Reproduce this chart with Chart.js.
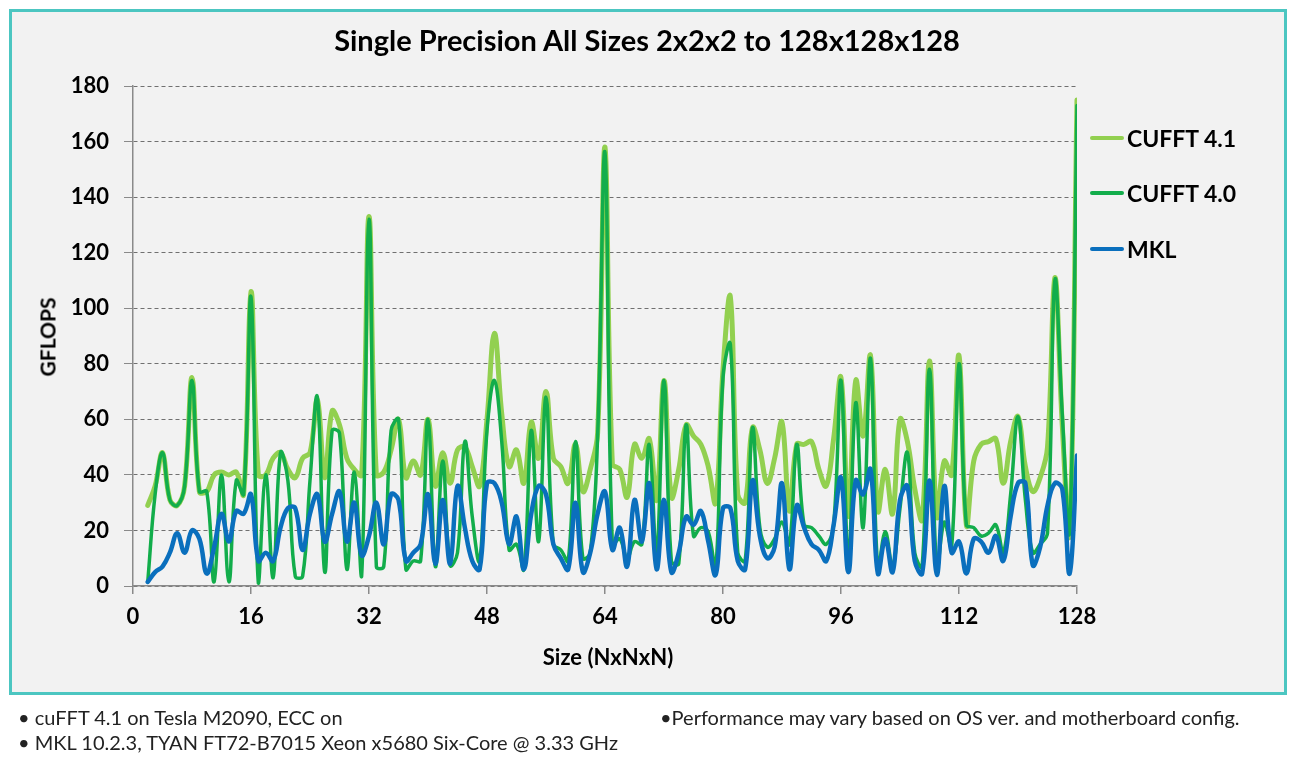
<!DOCTYPE html>
<html>
<head>
<meta charset="utf-8">
<script src="https://cdn.jsdelivr.net/npm/chart.js@4.4.1/dist/chart.umd.min.js"></script>
<style>
  html, body { margin: 0; padding: 0; background: #ffffff; }
  body { width: 1300px; height: 758px; position: relative; overflow: hidden; font-family: Lato, "Open Sans", sans-serif; }
  #frame { position: absolute; left: 9px; top: 9px; width: 1278px; height: 686px; box-sizing: border-box;
           border: 3px solid #4cc6c1; background: #f2f2f2; }
  #chart { position: absolute; left: 0; top: 0; }
  .txt { position: absolute; color: #000; white-space: nowrap; }
  #title { left: 0; width: 1294px; top: 22px; text-align: center; font-weight: bold; font-size: 29px; line-height: 36px; }
  #ytitle { left: 47px; top: 337px; transform: translate(-50%, -50%) rotate(-90deg); font-weight: bold; font-size: 21px; }
  #xtitle { left: 608px; top: 656px; transform: translate(-50%, -50%); font-weight: bold; font-size: 22px; }
  .leg { position: absolute; left: 1090px; height: 30px; display: flex; align-items: center; }
  .leg span.line { display: inline-block; width: 34px; height: 4px; border-radius: 2px; margin-right: 3px; }
  .leg span.lbl { font-weight: bold; font-size: 23px; color: #000; }
  .foot { font-size: 20px; color: #222; transform: translateY(-50%); }
</style>
</head>
<body>
<div id="frame"></div>
<canvas id="chart" width="1300" height="758"></canvas>
<div id="title" class="txt">Single Precision All Sizes 2x2x2 to 128x128x128</div>
<div id="ytitle" class="txt">GFLOPS</div>
<div id="xtitle" class="txt">Size (NxNxN)</div>
<div id="legend"></div>
<div class="txt foot" style="left:18px; top:717px;">• cuFFT 4.1 on Tesla M2090, ECC on</div>
<div class="txt foot" style="left:18px; top:742px;">• MKL 10.2.3, TYAN FT72-B7015 Xeon x5680 Six-Core @ 3.33 GHz</div>
<div class="txt foot" style="left:660px; top:717px;">•Performance may vary based on OS ver. and motherboard config.</div>
<script>
// chart data: FFT size N (for NxNxN) and GFLOPS per library
const sizes = [
  2, 3, 4, 5, 6, 7, 8, 9, 10, 11, 12, 13, 14, 15, 16, 17, 18, 19, 20, 21, 22, 23, 24, 25, 26, 27, 28, 29, 30, 31, 32,
  33, 34, 35, 36, 37, 38, 39, 40, 41, 42, 43, 44, 45, 46, 47, 48, 49, 50, 51, 52, 53, 54, 55, 56, 57, 58, 59, 60, 61, 62, 63, 64,
  65, 66, 67, 68, 69, 70, 71, 72, 73, 74, 75, 76, 77, 78, 79, 80, 81, 82, 83, 84, 85, 86, 87, 88, 89, 90, 91, 92, 93, 94, 95, 96,
  97, 98, 99, 100, 101, 102, 103, 104, 105, 106, 107, 108, 109, 110, 111, 112, 113, 114, 115, 116, 117, 118, 119, 120, 121, 122, 123, 124, 125, 126, 127, 128
];

const cufft41 = [
  29, 36, 48, 31, 29, 36, 75, 34, 34, 40, 41, 40, 41, 33, 106, 40, 40, 46, 48, 42, 39, 46, 48, 67, 39, 63, 58, 46, 42, 40, 133,
  40, 41, 49, 60, 39, 45, 40, 60, 36, 48, 37, 49, 50, 43, 36, 60, 91, 62, 43, 49, 37, 59, 46, 70, 46, 43, 37, 51, 34, 42, 55, 158,
  44, 42, 32, 51, 46, 53, 31, 74, 32, 42, 58, 54, 51, 43, 30, 78, 104, 33, 30, 57, 49, 37, 46, 59, 27, 51, 51, 52, 42, 36, 53, 75,
  25, 74, 54, 83, 27, 42, 26, 60, 52, 35, 24, 81, 25, 45, 40, 83, 22, 45, 51, 52, 53, 37, 52, 61, 43, 34, 39, 50, 111, 58, 19, 175
];

const cufft40 = [
  1.5, 33, 48, 31, 29, 36, 74, 34, 34, 1.5, 40, 1.5, 38, 33, 104, 1, 40, 3, 48, 38, 3.5, 3.5, 38, 68, 5, 56, 55, 6, 41, 3.5, 132,
  7, 7, 56, 60, 6, 9, 9, 60, 7, 45, 7.5, 12, 52, 25, 9, 56, 74, 52, 13, 15, 6, 56, 16, 68, 15, 13, 9, 52, 10, 12, 54, 156,
  15, 17, 10, 16, 15, 51, 11, 74, 9, 8, 58, 18, 21, 19.5, 6, 75, 87, 12, 9, 57, 21, 14, 17, 23, 15, 51, 22, 21, 18, 15, 22, 74,
  9, 66, 21, 82, 6, 19.5, 7, 28, 48, 12, 7, 78, 6, 23, 14, 80, 22, 21, 18, 19, 22, 12, 33, 61, 31, 12, 15, 19, 110, 62, 20, 173
];

const mkl = [
  1.5, 5, 7, 12, 19, 12, 20, 17, 4.5, 14, 26, 16, 27, 26, 33, 9, 12, 9, 21, 28, 28, 13, 26, 33, 16, 26, 34, 16, 30, 11, 18,
  30, 15, 33, 31, 9, 12, 15, 33, 8, 31, 8, 36, 21, 9, 6, 37, 37, 30, 15, 25, 6, 26, 36, 33, 15, 10, 6, 30, 5, 12, 26, 34,
  13, 21, 7, 31, 16, 37, 6, 31, 5, 12, 25, 22, 27, 16, 4, 28, 28, 9, 6, 38, 18, 10, 14, 37, 6, 29, 21, 15, 13, 9, 22, 39,
  5, 38, 33, 42, 4.5, 17, 5, 31, 36, 9, 4.5, 38, 4, 36, 12, 16, 4.5, 17, 16, 12, 18, 9, 25, 37, 37, 7.5, 14, 29, 37, 35, 4.5, 47
];

const seriesNames = ["CUFFT 4.1", "CUFFT 4.0", "MKL"];
const seriesColors = ["#92d050", "#12ad4b", "#0a6fbd"];
const xTicks = [0, 16, 32, 48, 64, 80, 96, 112, 128];
const yTicks = [0, 20, 40, 60, 80, 100, 120, 140, 160, 180];

function toPoints(values) {
  return sizes.map((n, i) => ({ x: n, y: values[i] }));
}

const tickFont = { family: "Lato", size: 22, weight: "bold" };

new Chart(document.getElementById("chart"), {
  type: "line",
  data: {
    datasets: [
      // higher order is painted first, so MKL ends on top
      { label: seriesNames[0], data: toPoints(cufft41), borderColor: seriesColors[0], borderWidth: 5, order: 2 },
      { label: seriesNames[1], data: toPoints(cufft40), borderColor: seriesColors[1], borderWidth: 3.5, order: 1 },
      { label: seriesNames[2], data: toPoints(mkl), borderColor: seriesColors[2], borderWidth: 4.5, order: 0 },
    ],
  },
  options: {
    responsive: false,
    animation: false,
    devicePixelRatio: 1,
    elements: {
      point: { radius: 0 },
      line: { tension: 0.4, borderCapStyle: "round", borderJoinStyle: "round", fill: false },
    },
    layout: { padding: { left: 0, top: 86, right: 223, bottom: 112 } },
    plugins: { legend: { display: false }, tooltip: { enabled: false } },
    scales: {
      x: {
        type: "linear",
        min: xTicks[0],
        max: xTicks[xTicks.length - 1],
        afterBuildTicks: (axis) => { axis.ticks = xTicks.map(v => ({ value: v })); },
        afterFit: (axis) => { axis.height = 60; },
        ticks: { font: tickFont, color: "#000", padding: 10, maxRotation: 0 },
        grid: { drawOnChartArea: false, drawTicks: true, tickLength: 8, color: "#8a8a8a", tickColor: "#8a8a8a", lineWidth: 1.5 },
        border: { color: "#8a8a8a", width: 1.5 },
      },
      y: {
        min: yTicks[0],
        max: yTicks[yTicks.length - 1],
        afterBuildTicks: (axis) => { axis.ticks = yTicks.map(v => ({ value: v })); },
        afterFit: (axis) => { axis.width = 133; },
        ticks: { font: tickFont, color: "#000", padding: 15 },
        grid: { color: "#707070", lineWidth: 1, tickLength: 9, tickColor: "#8a8a8a", tickBorderDash: [] },
        border: { color: "#8a8a8a", width: 1.5, dash: [4, 3] },
      },
    },
  },
});

// legend built from the series arrays
const legend = document.getElementById("legend");
const legendY = [138, 193, 249];
seriesNames.forEach((name, i) => {
  const item = document.createElement("div");
  item.className = "leg";
  item.style.top = (legendY[i] - 15) + "px";
  item.innerHTML = '<span class="line" style="background:' + seriesColors[i] + '"></span><span class="lbl">' + name + "</span>";
  legend.appendChild(item);
});
</script>
</body>
</html>
